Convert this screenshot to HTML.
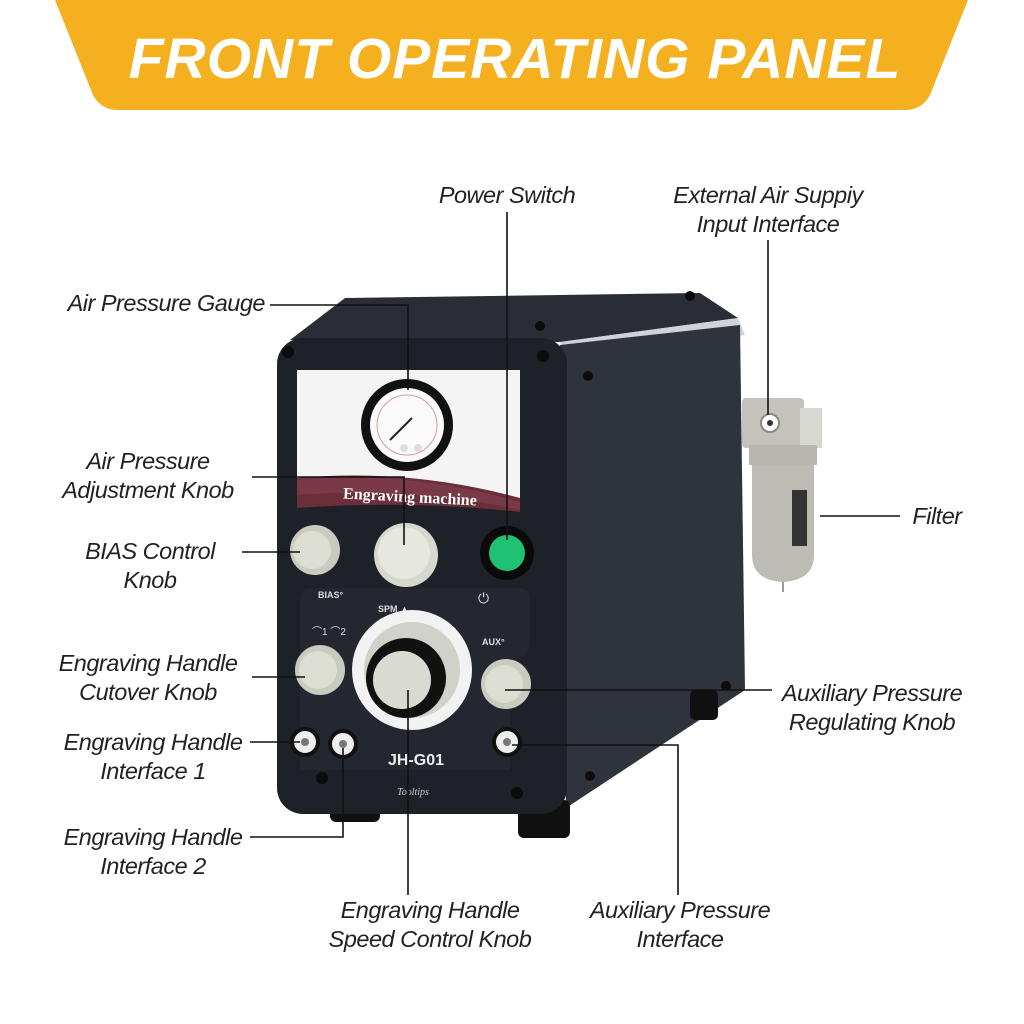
<!DOCTYPE html>
<html><head><style>
body{margin:0;width:1024px;height:1024px;background:#fff;overflow:hidden;position:relative;font-family:"Liberation Sans",sans-serif}
.l{position:absolute;font-style:italic;font-size:23.5px;color:#222;text-align:center;line-height:29px;white-space:nowrap;letter-spacing:-0.5px}
</style></head><body>
<svg width="1024" height="1024" style="position:absolute;left:0;top:0">
<path d="M55 0 H968 L930 95 Q922 110 905 110 H118 Q101 110 93 95 Z" fill="#F4B01E"/>
<text x="515" y="78" font-family="Liberation Sans" font-size="57" font-weight="bold" font-style="italic" fill="#fff" text-anchor="middle" letter-spacing="1">FRONT OPERATING PANEL</text>
<polygon points="290,340 345,298 700,293 738,318 560,342" fill="#2a2d35"/>
<polygon points="560,342 738,318 745,335 566,360" fill="#cfd2d6"/>
<polygon points="560,345 740,325 745,690 566,808" fill="#2f333c"/>
<rect x="330" y="800" width="50" height="22" rx="6" fill="#111"/>
<rect x="518" y="800" width="52" height="38" rx="6" fill="#111"/>
<rect x="690" y="690" width="28" height="30" rx="5" fill="#111"/>
<rect x="277" y="338" width="290" height="476" rx="26" fill="#1f2128"/>
<path d="M297 370 H520 V502 Q410 470 297 480 Z" fill="#f4f4f4"/>
<path d="M297 478 Q410 468 520 498 V512 Q410 500 297 508 Z" fill="#6b2f3a"/>
<path d="M297 480 Q410 470 520 502 V510 Q410 486 297 495 Z" fill="#7a3a45"/>
<text x="410" y="502" font-family="Liberation Serif" font-weight="bold" font-size="16" fill="#fff" text-anchor="middle" transform="rotate(3 410 497)">Engraving machine</text>
<circle cx="407" cy="425" r="46" fill="#111"/>
<circle cx="407" cy="425" r="37" fill="#fafafa"/>
<circle cx="407" cy="425" r="30" fill="none" stroke="#d99" stroke-width="1"/>
<line x1="390" y1="440" x2="412" y2="418" stroke="#222" stroke-width="2"/>
<circle cx="404" cy="448" r="4" fill="#ddd"/><circle cx="418" cy="448" r="4" fill="#ddd"/>
<circle cx="315" cy="550" r="25" fill="#c9cbbf"/><circle cx="312" cy="550" r="19" fill="#dcddd3"/>
<circle cx="406" cy="555" r="32" fill="#d6d8cd"/><circle cx="404" cy="553" r="26" fill="#e6e7df"/>
<circle cx="507" cy="553" r="27" fill="#0a0a0a"/><circle cx="507" cy="553" r="18" fill="#1fc173"/>
<path d="M300 600 Q300 588 312 588 H520 Q530 588 530 600 V640 Q530 660 510 660 V770 H300 Z" fill="#282b33" opacity="0.6"/>
<text x="318" y="598" font-size="9" font-weight="bold" fill="#ddd" font-family="Liberation Sans">BIAS°</text>
<text x="378" y="612" font-size="9" font-weight="bold" fill="#ddd" font-family="Liberation Sans">SPM ▲</text>
<text x="478" y="603" font-size="14" fill="#ddd" font-family="DejaVu Sans">⏻</text>
<text x="312" y="635" font-size="10" fill="#ddd" font-family="Liberation Sans">⌒1 ⌒2</text>
<text x="482" y="645" font-size="9" font-weight="bold" fill="#ddd" font-family="Liberation Sans">AUX°</text>
<circle cx="320" cy="670" r="25" fill="#c9cbbf"/><circle cx="318" cy="670" r="19" fill="#dcddd3"/>
<circle cx="412" cy="670" r="60" fill="#f2f2f2"/>
<circle cx="412" cy="670" r="48" fill="#d0d1c8"/>
<circle cx="406" cy="678" r="40" fill="#111"/>
<circle cx="402" cy="680" r="29" fill="#d9dbd0"/>
<circle cx="506" cy="684" r="25" fill="#c9cbbf"/><circle cx="504" cy="684" r="19" fill="#dcddd3"/>
<g fill="#eee" stroke="#111" stroke-width="4">
<circle cx="305" cy="742" r="13"/><circle cx="343" cy="744" r="13"/><circle cx="507" cy="742" r="13"/></g>
<g fill="#777"><circle cx="305" cy="742" r="4"/><circle cx="343" cy="744" r="4"/><circle cx="507" cy="742" r="4"/></g>
<text x="416" y="765" font-size="16" font-weight="bold" fill="#eee" text-anchor="middle" font-family="Liberation Sans">JH-G01</text>
<text x="413" y="795" font-size="10" font-style="italic" fill="#ccc" text-anchor="middle" font-family="Liberation Serif">Tooltips</text>
<g fill="#0c0c0c"><circle cx="288" cy="352" r="6"/><circle cx="543" cy="356" r="6"/><circle cx="322" cy="778" r="6"/><circle cx="517" cy="793" r="6"/><circle cx="588" cy="376" r="5"/><circle cx="590" cy="776" r="5"/><circle cx="726" cy="686" r="5"/><circle cx="690" cy="296" r="5"/><circle cx="540" cy="326" r="5"/></g>
<rect x="742" y="398" width="62" height="50" rx="4" fill="#c4c3ba"/>
<rect x="800" y="408" width="22" height="40" fill="#d8d8d2"/>
<rect x="749" y="445" width="68" height="20" fill="#b8b7ae"/>
<path d="M752 465 H814 V555 Q814 580 783 582 Q752 580 752 555 Z" fill="#bdbcb4"/>
<rect x="792" y="490" width="15" height="56" fill="#333"/>
<circle cx="770" cy="423" r="9" fill="#fff" stroke="#888" stroke-width="2"/><circle cx="770" cy="423" r="3" fill="#333"/>
<line x1="783" y1="582" x2="783" y2="592" stroke="#999" stroke-width="2"/>
<g stroke="#111" stroke-width="1.6" fill="none">
<path d="M270 305 H408 V390"/>
<path d="M507 212 V540"/>
<path d="M768 240 V415"/>
<path d="M252 477 H404 V545"/>
<path d="M242 552 H300"/>
<path d="M820 516 H900"/>
<path d="M252 677 H305"/>
<path d="M505 690 H772"/>
<path d="M250 742 H300"/>
<path d="M250 837 H343 V748"/>
<path d="M408 690 V895"/>
<path d="M512 745 H678 V895"/>
</g>
</svg>
<div class="l" style="left:410px;top:181px;width:194px">Power Switch</div>
<div class="l" style="left:640px;top:181px;width:256px">External Air Suppiy<br>Input Interface</div>
<div class="l" style="top:289px;width:265px;text-align:right;left:0px">Air Pressure Gauge</div>
<div class="l" style="left:30px;top:447px;width:236px">Air Pressure<br>Adjustment Knob</div>
<div class="l" style="left:50px;top:537px;width:200px">BIAS Control<br>Knob</div>
<div class="l" style="left:890px;top:502px;width:94px">Filter</div>
<div class="l" style="left:20px;top:649px;width:256px">Engraving Handle<br>Cutover Knob</div>
<div class="l" style="left:750px;top:679px;width:244px">Auxiliary Pressure<br>Regulating Knob</div>
<div class="l" style="left:20px;top:728px;width:266px">Engraving Handle<br>Interface 1</div>
<div class="l" style="left:20px;top:823px;width:266px">Engraving Handle<br>Interface 2</div>
<div class="l" style="left:300px;top:896px;width:260px">Engraving Handle<br>Speed Control Knob</div>
<div class="l" style="left:560px;top:896px;width:240px">Auxiliary Pressure<br>Interface</div>
</body></html>
